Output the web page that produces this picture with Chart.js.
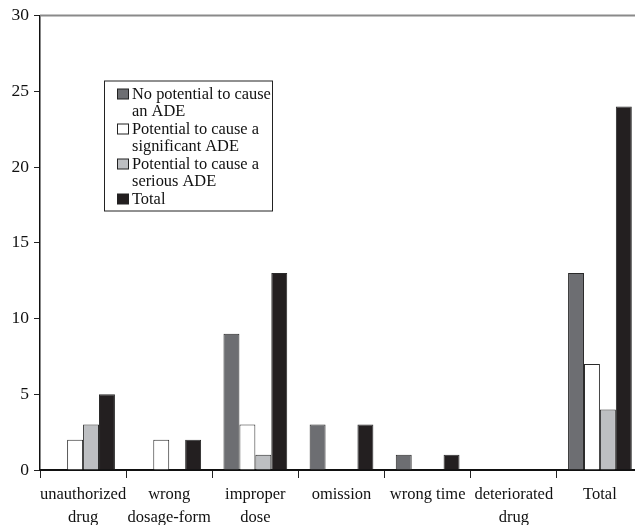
<!DOCTYPE html>
<html>
<head>
<meta charset="utf-8">
<script src="https://cdn.jsdelivr.net/npm/chart.js@4/dist/chart.umd.min.js"></script>
<style>
html,body{margin:0;padding:0;background:#fff;overflow:hidden;width:635px;height:525px;}
canvas{display:block;}
</style>
</head>
<body>
<canvas id="c" width="650" height="525"></canvas>
<script>
const categories = [
  ["unauthorized","drug"],
  ["wrong","dosage-form"],
  ["improper","dose"],
  ["omission"],
  ["wrong time"],
  ["deteriorated","drug"],
  ["Total"]
];
const seriesNames = [
  "No potential to cause an ADE",
  "Potential to cause a significant ADE",
  "Potential to cause a serious ADE",
  "Total"
];
const noPotential   = [0, 0, 9, 3, 1, 0, 13];
const significant   = [2, 2, 3, 0, 0, 0, 7];
const serious       = [3, 0, 1, 0, 0, 0, 4];
const totals        = [5, 2, 13, 3, 1, 0, 24];
const yTicks = [0, 5, 10, 15, 20, 25, 30];

const colors = ["#6d6e72", "#ffffff", "#bdbfc2", "#231f20"];
const FONT = "'Liberation Serif', 'Times New Roman', serif";

const topBorder = {
  id: 'topBorder',
  afterDraw(chart) {
    const {ctx, chartArea} = chart;
    ctx.save();
    ctx.strokeStyle = '#8a8a8a';
    ctx.lineWidth = 2;
    ctx.beginPath();
    ctx.moveTo(chartArea.left, chartArea.top);
    ctx.lineTo(chartArea.right + 10, chartArea.top);
    ctx.stroke();
    ctx.restore();
  }
};

const boxLegend = {
  id: 'boxLegend',
  afterDraw(chart) {
    const {ctx, chartArea} = chart;
    const x0 = chartArea.left + 64, y0 = chartArea.top + 65;
    const w = 168, h = 130;
    const lineH = 17.5, maxW = 146;
    ctx.save();
    ctx.fillStyle = '#fff';
    ctx.fillRect(x0, y0, w, h);
    ctx.strokeStyle = '#222';
    ctx.lineWidth = 1;
    ctx.strokeRect(x0 + 0.5, y0 + 0.5, w, h);
    ctx.font = "16.4px " + FONT;
    ctx.textBaseline = 'middle';
    let y = y0 + 13;
    chart.data.datasets.forEach(ds => {
      const words = ds.label.split(' ');
      const lines = [];
      let cur = '';
      words.forEach(wd => {
        const t = cur ? cur + ' ' + wd : wd;
        if (ctx.measureText(t).width > maxW && cur) { lines.push(cur); cur = wd; }
        else cur = t;
      });
      if (cur) lines.push(cur);
      ctx.fillStyle = ds.backgroundColor;
      ctx.fillRect(x0 + 13.5, y - 4.5, 11, 10);
      ctx.strokeStyle = '#222';
      ctx.strokeRect(x0 + 13.5, y - 4.5, 11, 10);
      ctx.fillStyle = '#111';
      lines.forEach((ln, i) => ctx.fillText(ln, x0 + 28, y + 1 + i * lineH));
      y += lines.length * lineH;
    });
    ctx.restore();
  }
};

const values = [noPotential, significant, serious, totals];

new Chart(document.getElementById('c'), {
  type: 'bar',
  data: {
    labels: categories,
    datasets: seriesNames.map((n, i) => ({
      label: n,
      data: values[i],
      backgroundColor: colors[i],
      borderColor: '#2a2a2a',
      borderWidth: 1,
      categoryPercentage: 0.74,
      barPercentage: 1.0
    }))
  },
  options: {
    responsive: false,
    animation: false,
    layout: { padding: { top: 14, left: 0, right: 7, bottom: 0 } },
    plugins: { legend: { display: false }, tooltip: { enabled: false } },
    scales: {
      x: {
        afterFit(s) { s.height = 55; },
        grid: { display: true, offset: true, drawOnChartArea: false, drawTicks: true, tickLength: 8, color: '#222', lineWidth: 1 },
        border: { display: true, color: '#111', width: 2 },
        ticks: { color: '#111', font: { family: FONT, size: 16.5, lineHeight: 1.4 }, padding: 5, maxRotation: 0, autoSkip: false }
      },
      y: {
        min: 0, max: 30,
        afterFit(s) { s.width = 40; },
        afterBuildTicks(s) { s.ticks = yTicks.map(v => ({ value: v })); },
        grid: { display: true, drawOnChartArea: false, drawTicks: true, tickLength: 6, color: '#222', lineWidth: 1 },
        border: { display: true, color: '#111', width: 1.5 },
        ticks: { color: '#111', font: { family: FONT, size: 17.5 }, padding: 5 }
      }
    }
  },
  plugins: [topBorder, boxLegend]
});
</script>
</body>
</html>
